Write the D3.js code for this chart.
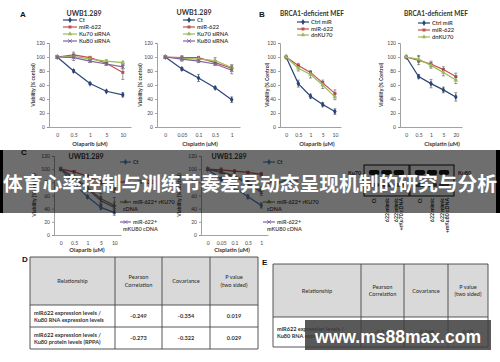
<!DOCTYPE html>
<html><head><meta charset="utf-8">
<script src="https://cdn.jsdelivr.net/npm/d3@7"></script>
<style>body{margin:0;background:#fff}svg{display:block}</style>
</head><body>
<svg id="c" width="500" height="362"></svg>
<script>
// ---------- data ----------
const yTicks = [0, 20, 40, 60, 80, 100, 120];
const olaparibDoses = ["0", "0.5", "1", "5", "10"];
const cisplatinDosesA = ["0", "0.05", "0.1", "0.5", "1"];
const cisplatinDosesB = ["0", "0.5", "1", "5", "20"];

// Panel A, Olaparib
const a1Ct = [100, 80, 62, 51, 46],      a1CtErr = [0, 2, 1.5, 1.5, 3];
const a1Mir = [100, 103, 99, 91, 78],    a1MirErr = [1.5, 4, 2, 2, 10];
const a1Ku70 = [100, 101, 97, 94, 92],   a1Ku70Err = [0, 2, 2, 2, 2];
const a1Ku80 = [100, 99, 94, 90, 86],    a1Ku80Err = [1, 4, 2, 2, 3];
// Panel A, Cisplatin
const a2Ct = [100, 83, 70, 56, 39],      a2CtErr = [0, 2, 5, 1.5, 4];
const a2Mir = [100, 99, 99, 92, 84],     a2MirErr = [1, 3, 2, 3, 4];
const a2Ku70 = [100, 98, 97, 95, 85],    a2Ku70Err = [1, 2, 2, 4, 4];
const a2Ku80 = [100, 97, 94, 90, 81],    a2Ku80Err = [1, 3, 2, 2, 5];
// Panel B, Olaparib
const b1Ctrl = [100, 62, 44, 32, 22],    b1CtrlErr = [1, 5, 3, 3, 4];
const b1Mir = [100, 88, 78, 63, 48],     b1MirErr = [1, 3, 2, 4, 5];
const b1Dn = [100, 84, 75, 60, 43],      b1DnErr = [1, 4, 5, 5, 4];
// Panel B, Cisplatin
const b2Ctrl = [100, 72, 62, 53, 43],    b2CtrlErr = [1, 3, 6, 4, 6];
const b2Mir = [100, 95, 90, 82, 72],     b2MirErr = [1, 6, 4, 4, 5];
const b2Dn = [100, 97, 88, 78, 67],      b2DnErr = [1, 5, 4, 5, 5];
// Panel C, Olaparib
const c1Ct = [100, 78, 58, 42, 34],      c1CtErr = [0, 2, 2, 3, 4];
const c1Mir = [100, 96, 89, 80, 70],     c1MirErr = [0, 2, 3, 4, 5];
const c1Rku70 = [100, 88, 72, 55, 45],   c1Rku70Err = [0, 3, 5, 8, 12];
const c1Mku80 = [100, 86, 70, 52, 42],   c1Mku80Err = [0, 3, 4, 6, 8];
// Panel C, Cisplatin
const c2Ct = [100, 85, 72, 58, 45],      c2CtErr = [0, 2, 3, 3, 4];
const c2Mir = [100, 99, 97, 95, 92],     c2MirErr = [0, 3, 2, 2, 3];
const c2Rku70 = [100, 96, 90, 80, 68],   c2Rku70Err = [0, 2, 3, 4, 5];
const c2Mku80 = [100, 95, 88, 78, 65],   c2Mku80Err = [0, 2, 3, 4, 5];

// Tables
const tableHeaders = [["Relationship"], ["Pearson", "Correlation"], ["Covariance"], ["P value", "(two sided)"]];
const tableDRelations = [["miR622 expression levels /", "Ku80 RNA expression levels"],
                         ["miR622 expression levels /", "Ku80 protein levels (RPPA)"]];
const tableDPearson = ["-0.249", "-0.273"];
const tableDCovariance = ["-0.354", "-0.322"];
const tableDPvalue = ["0.019", "0.029"];
const tableERelations = [["miR622 expression levels /", "Ku80 RNA expression levels"]];
const tableEPearson = ["-0.316"];
const tableECovariance = ["-0.348"];
const tableEPvalue = ["0.05"];

// Western blot lanes
const blotLanesKu70 = [["Ct"], ["622 mimic"], ["622 mimic", "+rKu70 cDNA"]];
const blotLanesKu80 = [["Ct"], ["622 mimic"], ["622 mimic", "+mKu80 cDNA"]];

const bannerText = "体育心率控制与训练节奏差异动态呈现机制的研究与分析";
const watermarkText = "www.ms88max.com";

// ---------- drawing ----------
const svg = d3.select("#c");
const FONT = "Lato, 'Open Sans', 'Liberation Sans', sans-serif";
const NAVY = "#2a4577", RED = "#c0504d", GREEN = "#9bbb59", PURPLE = "#8064a2", BLUE = "#4f81bd";
const SYM = {
  diamond: d3.symbol().type(d3.symbolDiamond).size(11),
  square: d3.symbol().type(d3.symbolSquare).size(9),
  triangle: d3.symbol().type(d3.symbolTriangle).size(9),
  x: d3.symbol().type(d3.symbolX).size(10)
};

function drawMarker(g, sym, color, cx, cy) {
  const p = g.append("path").attr("d", SYM[sym]()).attr("transform", `translate(${cx},${cy})`);
  if (sym === "x") p.attr("fill", "none").attr("stroke", color).attr("stroke-width", 0.9);
  else p.attr("fill", color);
}

function chart(cfg) {
  const g = svg.append("g");
  const x = d3.scalePoint().domain(cfg.cats).range([cfg.x0, cfg.x1]).padding(0.5);
  const y = d3.scaleLinear().domain([0, 120]).range([cfg.yb, cfg.yt]);

  const ya = g.append("g").attr("transform", `translate(${cfg.x0},0)`)
    .call(d3.axisLeft(y).tickValues(yTicks).tickSize(2).tickPadding(2));
  const xa = g.append("g").attr("transform", `translate(0,${cfg.yb})`)
    .call(d3.axisBottom(x).tickSize(0).tickPadding(6));
  [ya, xa].forEach(a => {
    a.selectAll("path,line").attr("stroke", "#8a8a8a").attr("stroke-width", 0.8);
    a.selectAll("text").attr("font-family", FONT).attr("font-size", 5).attr("fill", "#444");
  });

  cfg.series.forEach(s => {
    const pts = cfg.cats.map((c, i) => ({ c, v: s.values[i], e: s.err[i] }));
    g.append("g").selectAll("path").data(pts.filter(d => d.e > 0)).enter().append("path")
      .attr("d", d => {
        const cx = x(d.c), t = y(d.v + d.e), b = y(d.v - d.e);
        return `M${cx},${t}V${b}M${cx - 1.5},${t}h3M${cx - 1.5},${b}h3`;
      })
      .attr("stroke", "#555").attr("stroke-width", 0.6).attr("fill", "none");
    g.append("path").datum(pts)
      .attr("d", d3.line().x(d => x(d.c)).y(d => y(d.v)))
      .attr("stroke", s.color).attr("stroke-width", 1.2).attr("fill", "none");
    pts.forEach(d => drawMarker(g, s.sym, s.color, x(d.c), y(d.v)));
  });

  if (cfg.title) g.append("text").attr("x", cfg.title.x).attr("y", cfg.title.y)
    .attr("text-anchor", "middle").attr("font-family", FONT).attr("font-weight", 700)
    .attr("font-size", cfg.title.size || 7).attr("fill", "#333").text(cfg.title.text);

  // legend
  const L = cfg.legend;
  cfg.series.forEach((s, i) => {
    const ly = L.rows[i];
    g.append("line").attr("x1", L.x).attr("x2", L.x + L.w).attr("y1", ly).attr("y2", ly)
      .attr("stroke", s.color).attr("stroke-width", 1.2);
    drawMarker(g, s.sym, s.color, L.x + L.w / 2, ly);
    const t = g.append("text").attr("x", L.x + L.w + 2).attr("y", ly + 2)
      .attr("font-family", FONT).attr("font-weight", 600).attr("font-size", L.size || 5.8).attr("fill", "#333");
    s.label.forEach((ln, j) => {
      t.append("tspan").attr("x", j === 0 ? L.x + L.w + 2 : L.x + L.w - 8).attr("dy", j === 0 ? 0 : 6.5).text(ln);
    });
  });

  g.append("text").attr("x", cfg.xlab.x).attr("y", cfg.xlab.y).attr("text-anchor", "middle")
    .attr("font-family", FONT).attr("font-weight", 700).attr("font-size", 5.8).attr("fill", "#333").text(cfg.xlab.text);
  g.append("text").attr("transform", `translate(${cfg.ylab.x},${cfg.ylab.y}) rotate(-90)`)
    .attr("text-anchor", "middle").attr("font-family", FONT).attr("font-weight", 700)
    .attr("font-size", 5).attr("fill", "#333").text(cfg.ylab.text);
}

function panelLabel(t, px, py) {
  svg.append("text").attr("x", px).attr("y", py).attr("font-family", "'Liberation Sans', Arial, sans-serif")
    .attr("font-weight", 700).attr("font-size", 8).attr("fill", "#111").text(t);
}

// Panel A
panelLabel("A", 20, 17);
chart({
  cats: olaparibDoses, x0: 49, x1: 131, yb: 127, yt: 43,
  title: { text: "UWB1.289", x: 84, y: 16 },
  legend: { x: 63, w: 14, rows: [20, 27, 34, 41] },
  xlab: { text: "Olaparib (uM)", x: 90, y: 146 },
  ylab: { text: "Viability (% control)", x: 35, y: 85 },
  series: [
    { label: ["Ct"], color: NAVY, sym: "diamond", values: a1Ct, err: a1CtErr },
    { label: ["miR-622"], color: RED, sym: "square", values: a1Mir, err: a1MirErr },
    { label: ["Ku70 siRNA"], color: GREEN, sym: "triangle", values: a1Ku70, err: a1Ku70Err },
    { label: ["Ku80 siRNA"], color: PURPLE, sym: "x", values: a1Ku80, err: a1Ku80Err }
  ]
});
chart({
  cats: cisplatinDosesA, x0: 157, x1: 240, yb: 127, yt: 43,
  title: { text: "UWB1.289", x: 194, y: 15 },
  legend: { x: 183, w: 12, rows: [20, 27, 34, 41] },
  xlab: { text: "Cisplatin (uM)", x: 200, y: 146 },
  ylab: { text: "Viability (% control)", x: 142, y: 85 },
  series: [
    { label: ["Ct"], color: NAVY, sym: "diamond", values: a2Ct, err: a2CtErr },
    { label: ["miR-622"], color: RED, sym: "square", values: a2Mir, err: a2MirErr },
    { label: ["Ku70 siRNA"], color: GREEN, sym: "triangle", values: a2Ku70, err: a2Ku70Err },
    { label: ["Ku80 siRNA"], color: PURPLE, sym: "x", values: a2Ku80, err: a2Ku80Err }
  ]
});

// Panel B
panelLabel("B", 259, 17);
chart({
  cats: olaparibDoses, x0: 280, x1: 341, yb: 127, yt: 43,
  title: { text: "BRCA1-deficient MEF", x: 312, y: 16, size: 6.5 },
  legend: { x: 297, w: 12, rows: [22, 29, 35] },
  xlab: { text: "Olaparib (uM)", x: 317, y: 146 },
  ylab: { text: "Viability (% Control)", x: 269, y: 85 },
  series: [
    { label: ["Ctrl miR"], color: NAVY, sym: "diamond", values: b1Ctrl, err: b1CtrlErr },
    { label: ["miR-622"], color: RED, sym: "square", values: b1Mir, err: b1MirErr },
    { label: ["dnKU70"], color: GREEN, sym: "triangle", values: b1Dn, err: b1DnErr }
  ]
});
chart({
  cats: cisplatinDosesB, x0: 400, x1: 462, yb: 127, yt: 43,
  title: { text: "BRCA1-deficient MEF", x: 436, y: 16, size: 6.5 },
  legend: { x: 418, w: 12, rows: [23, 30, 37] },
  xlab: { text: "Cisplatin (uM)", x: 442, y: 146 },
  ylab: { text: "Viability (% Control)", x: 383, y: 85 },
  series: [
    { label: ["Ctrl miR"], color: NAVY, sym: "diamond", values: b2Ctrl, err: b2CtrlErr },
    { label: ["miR-622"], color: RED, sym: "square", values: b2Mir, err: b2MirErr },
    { label: ["dnKU70"], color: GREEN, sym: "triangle", values: b2Dn, err: b2DnErr }
  ]
});

// Panel C
panelLabel("C", 21, 155);
chart({
  cats: olaparibDoses, x0: 54, x1: 121, yb: 235, yt: 156,
  title: { text: "UWB1.289", x: 86, y: 159 },
  legend: { x: 120, w: 11, rows: [162, 182, 202, 222], size: 5.5 },
  xlab: { text: "Olaparib (uM)", x: 87, y: 252 },
  ylab: { text: "Viability (% control)", x: 36, y: 195 },
  series: [
    { label: ["Ct"], color: BLUE, sym: "diamond", values: c1Ct, err: c1CtErr },
    { label: ["miR-622"], color: RED, sym: "square", values: c1Mir, err: c1MirErr },
    { label: ["miR-622+ rKU70", "cDNA"], color: "#6f8f3a", sym: "triangle", values: c1Rku70, err: c1Rku70Err },
    { label: ["miR-622+", "mKU80 cDNA"], color: PURPLE, sym: "x", values: c1Mku80, err: c1Mku80Err }
  ]
});
chart({
  cats: cisplatinDosesA, x0: 201, x1: 268, yb: 235, yt: 156,
  title: { text: "UWB1.289", x: 229, y: 159 },
  legend: { x: 263, w: 12, rows: [162, 182, 202, 222], size: 5.5 },
  xlab: { text: "Cisplatin (uM)", x: 232, y: 252 },
  ylab: { text: "Viability (% control)", x: 181, y: 195 },
  series: [
    { label: ["Ct"], color: BLUE, sym: "diamond", values: c2Ct, err: c2CtErr },
    { label: ["miR-622"], color: RED, sym: "square", values: c2Mir, err: c2MirErr },
    { label: ["miR-622+ rKU70", "cDNA"], color: "#6f8f3a", sym: "triangle", values: c2Rku70, err: c2Rku70Err },
    { label: ["miR-622+", "mKU80 cDNA"], color: PURPLE, sym: "x", values: c2Mku80, err: c2Mku80Err }
  ]
});

// Western blot
function blot(lanes, bx, bw, name, nameX) {
  const g = svg.append("g");
  g.append("rect").attr("x", bx).attr("y", 165).attr("width", bw).attr("height", 31)
    .attr("fill", "#f2f2f2").attr("stroke", "#111").attr("stroke-width", 1);
  const lx = d3.scaleBand().domain(d3.range(lanes.length)).range([bx + 3, bx + bw - 3]).padding(0.15);
  g.selectAll(".band").data(lanes).enter().append("rect")
    .attr("x", (d, i) => lx(i)).attr("y", 170).attr("width", lx.bandwidth()).attr("height", 5)
    .attr("rx", 2).attr("fill", "#1a1a1a");
  g.selectAll(".band2").data(lanes).enter().append("rect")
    .attr("x", (d, i) => lx(i)).attr("y", 183).attr("width", lx.bandwidth()).attr("height", 4)
    .attr("rx", 2).attr("fill", "#555");
  g.append("text").attr("x", nameX).attr("y", 175).attr("font-family", FONT).attr("font-weight", 700)
    .attr("font-size", 5.5).attr("fill", "#222").text(name);
  lanes.forEach((lines, i) => {
    const cx = lx(i) + lx.bandwidth() / 2;
    lines.forEach((ln, j) => {
      const off = (j - (lines.length - 1) / 2) * 5;
      g.append("text").attr("transform", `translate(${cx + off + 2},198) rotate(-90)`)
        .attr("text-anchor", "end").attr("font-family", FONT).attr("font-weight", 700)
        .attr("font-size", 5.2).attr("fill", "#222").text(ln);
    });
  });
}
blot(blotLanesKu70, 364, 45, "Ku70", 348);
blot(blotLanesKu80, 410, 44, "Ku80", 458);

// Tables
function table(cfg) {
  const g = svg.append("g");
  const cols = cfg.cols, rows = cfg.rows;
  g.append("rect").attr("x", cols[0]).attr("y", rows[0]).attr("width", cols[cols.length - 1] - cols[0])
    .attr("height", rows[1] - rows[0]).attr("fill", "#d9d9d9");
  cols.forEach(cx => g.append("line").attr("x1", cx).attr("x2", cx).attr("y1", rows[0]).attr("y2", rows[rows.length - 1])
    .attr("stroke", "#444").attr("stroke-width", 0.9));
  rows.forEach(ry => g.append("line").attr("x1", cols[0]).attr("x2", cols[cols.length - 1]).attr("y1", ry).attr("y2", ry)
    .attr("stroke", "#444").attr("stroke-width", 0.9));
  const txt = (x, y, s, anchor, w) => g.append("text").attr("x", x).attr("y", y).attr("text-anchor", anchor)
    .attr("font-family", FONT).attr("font-size", 5.6).attr("font-weight", w).attr("fill", "#333").text(s);
  const hy = (rows[0] + rows[1]) / 2;
  tableHeaders.forEach((lines, i) => {
    const cx = (cols[i] + cols[i + 1]) / 2;
    lines.forEach((ln, j) => txt(cx, hy + 2 + (j - (lines.length - 1) / 2) * 7.5, ln, "middle", 500));
  });
  cfg.relations.forEach((lines, r) => {
    const my = (rows[r + 1] + rows[r + 2]) / 2;
    lines.forEach((ln, j) => txt(cols[0] + 4, my + 2 + (j - 0.5) * 7, ln, "start", 700));
    [cfg.pearson[r], cfg.cov[r], cfg.p[r]].forEach((v, k) => txt((cols[k + 1] + cols[k + 2]) / 2, my + 2, v, "middle", 700));
  });
}
panelLabel("D", 22, 262);
table({ cols: [30, 115, 162, 210, 258], rows: [257, 305, 327, 349],
  relations: tableDRelations, pearson: tableDPearson, cov: tableDCovariance, p: tableDPvalue });
panelLabel("E", 262, 265);
table({ cols: [273, 361, 404, 448, 488], rows: [264, 317, 347],
  relations: tableERelations, pearson: tableEPearson, cov: tableECovariance, p: tableEPvalue });

// Banner overlay
svg.append("rect").attr("x", 0).attr("y", 150).attr("width", 500).attr("height", 63).attr("fill", "rgba(0,0,0,0.57)");
svg.append("rect").attr("x", 0).attr("y", 150).attr("width", 3).attr("height", 63).attr("fill", "#000");
svg.append("rect").attr("x", 496).attr("y", 150).attr("width", 4).attr("height", 63).attr("fill", "#000");
svg.append("text").attr("x", 250).attr("y", 191).attr("text-anchor", "middle")
  .attr("font-family", "'Noto Sans CJK SC', sans-serif").attr("font-weight", 700).attr("font-size", 19.6)
  .attr("textLength", 494).attr("lengthAdjust", "spacingAndGlyphs")
  .attr("fill", "#fff").text(bannerText);

// Watermark
svg.append("rect").attr("x", 305).attr("y", 320).attr("width", 186).attr("height", 30).attr("fill", "rgba(60,60,60,0.85)");
svg.append("text").attr("x", 398).attr("y", 343).attr("text-anchor", "middle").attr("font-family", "'Liberation Sans', Arial, sans-serif")
  .attr("font-weight", 700).attr("font-size", 19).attr("textLength", 166).attr("lengthAdjust", "spacingAndGlyphs")
  .attr("fill", "#fff").text(watermarkText);
</script>
</body></html>
